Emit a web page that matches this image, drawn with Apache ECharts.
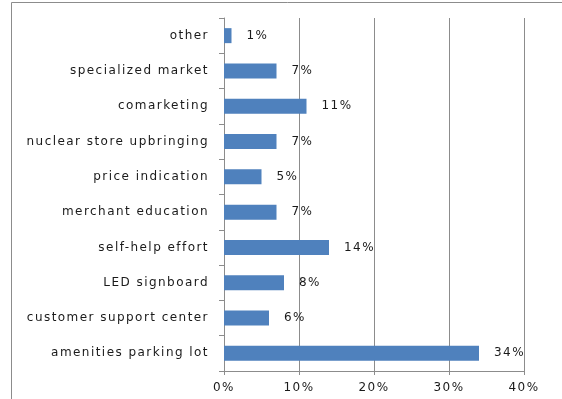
<!DOCTYPE html>
<html>
<head>
<meta charset="utf-8">
<script src="https://cdn.jsdelivr.net/npm/echarts@6/dist/echarts.min.js"></script>
<style>
  html, body { margin: 0; padding: 0; background: #fff; }
  #chart { width: 562px; height: 399px; }
</style>
</head>
<body>
<div id="chart"></div>
<script>
// Categories listed bottom-to-top, as the category axis draws them
const categories = [
  'amenities parking lot',
  'customer support center',
  'LED signboard',
  'self-help effort',
  'merchant education',
  'price indication',
  'nuclear store upbringing',
  'comarketing',
  'specialized market',
  'other'
];
// Share of responses, percent
const shares = [34, 6, 8, 14, 7, 5, 7, 11, 7, 1];
const xTicks = [0, 10, 20, 30, 40];

// Slightly tracked-out lettering for all chart text (canvas letterSpacing)
(function () {
  const proto = CanvasRenderingContext2D.prototype;
  if (!('letterSpacing' in proto)) return;
  const spacing = '1.45px';
  const fill = proto.fillText;
  const measure = proto.measureText;
  proto.fillText = function () { this.letterSpacing = spacing; return fill.apply(this, arguments); };
  proto.measureText = function () { this.letterSpacing = spacing; return measure.apply(this, arguments); };
})();

const chart = echarts.init(document.getElementById('chart'), null, { renderer: 'canvas' });
const font = 'DejaVu Sans, Noto Sans, sans-serif';

chart.setOption({
  animation: false,
  backgroundColor: '#ffffff',
  graphic: [{
    type: 'rect',
    shape: { x: 11.5, y: 2.5, width: 700, height: 500 },
    style: { fill: 'none', stroke: '#8c8c8c', lineWidth: 1 },
    silent: true
  }],
  grid: { left: 224, right: 38, top: 18, bottom: 28, containLabel: false },
  xAxis: {
    type: 'value',
    min: xTicks[0],
    max: xTicks[xTicks.length - 1],
    interval: 10,
    axisLine: { show: true, lineStyle: { color: '#8c8c8c', width: 1 } },
    axisTick: { show: true, length: 4, lineStyle: { color: '#8c8c8c' } },
    splitLine: { show: true, lineStyle: { color: '#8c8c8c', width: 1 } },
    axisLabel: {
      formatter: v => v + '%',
      color: '#1a1a1a',
      fontFamily: font,
      fontSize: 12,
      margin: 10
    }
  },
  yAxis: {
    type: 'category',
    data: categories,
    axisLine: { show: true, lineStyle: { color: '#8c8c8c', width: 1 } },
    axisTick: { show: true, length: 5, lineStyle: { color: '#8c8c8c' } },
    axisLabel: {
      color: '#1a1a1a',
      fontFamily: font,
      fontSize: 12,
      margin: 15
    },
    splitLine: { show: false }
  },
  series: [{
    type: 'bar',
    data: shares,
    barWidth: 15,
    itemStyle: { color: '#4f81bd' },
    label: {
      show: true,
      position: 'right',
      distance: 15,
      formatter: p => p.value + '%',
      color: '#1a1a1a',
      fontFamily: font,
      fontSize: 12
    }
  }]
});
</script>
</body>
</html>
